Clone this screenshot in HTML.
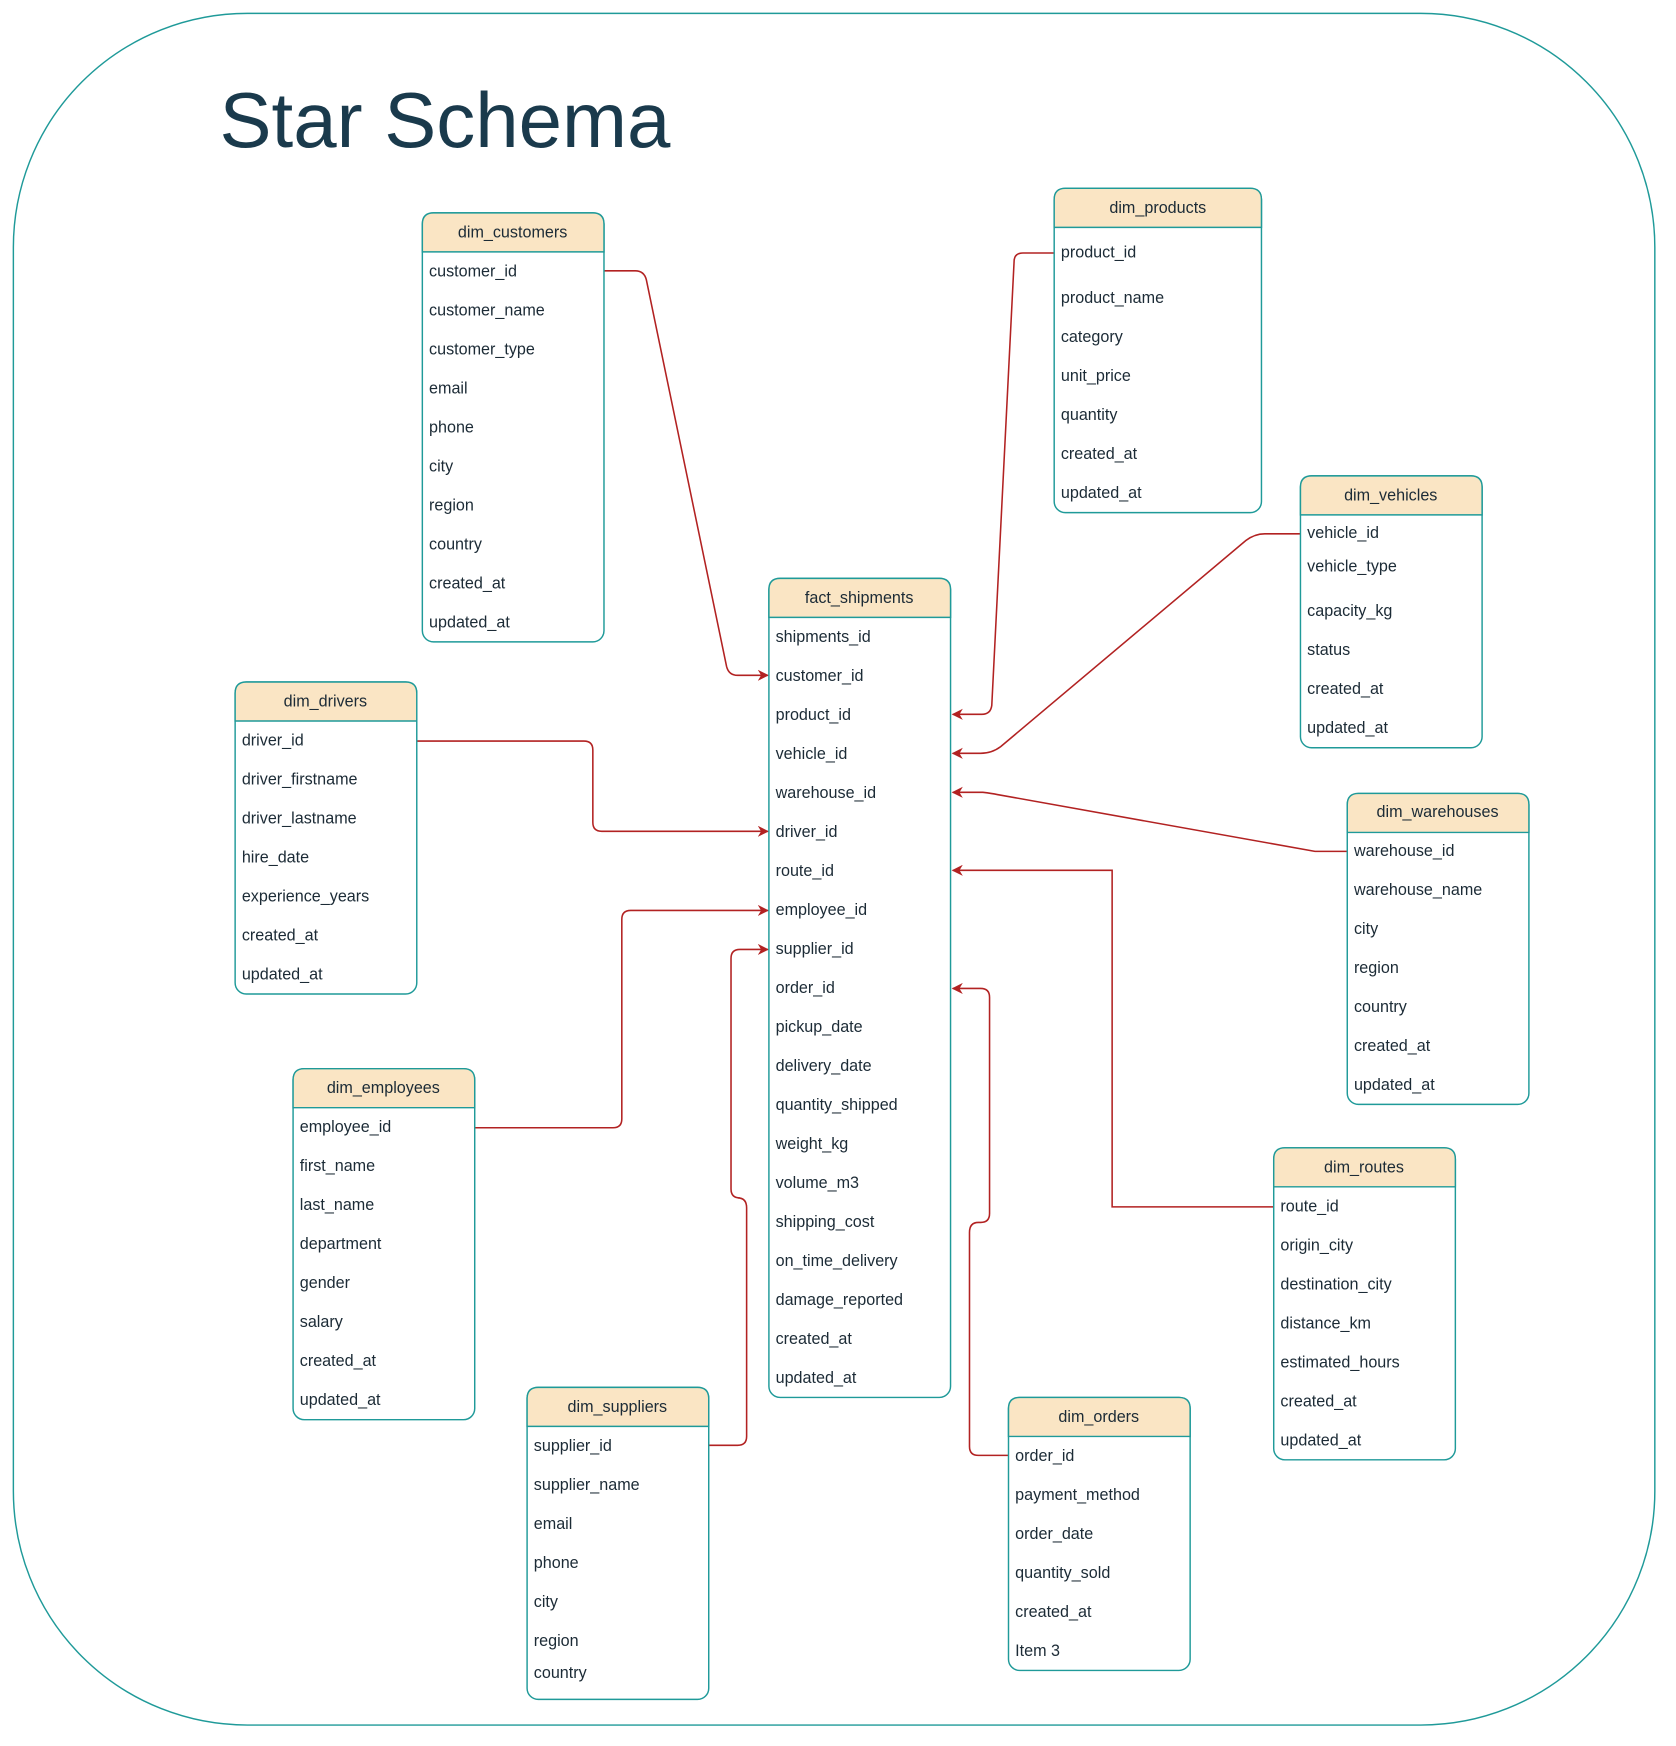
<!DOCTYPE html>
<html><head><meta charset="utf-8"><style>
html,body{margin:0;padding:0;background:#fff;}
svg{display:block;}
text{font-family:"Liberation Sans",Arial,sans-serif;}
.t{font-size:14.5px;fill:#1c2b36;}
.h{font-size:14.5px;fill:#1c2b36;text-anchor:middle;}
.box{fill:#fff;stroke:#1f9a99;stroke-width:1.3;}
.hd{fill:#fae5c4;stroke:#1f9a99;stroke-width:1.3;}
.c{fill:none;stroke:#b22222;stroke-width:1.4;}
</style></head><body>
<svg width="1676" height="1746" viewBox="0 0 1504 1566.8" xmlns="http://www.w3.org/2000/svg">
<defs>
<marker id="a" markerWidth="10" markerHeight="10" refX="9" refY="5" orient="auto" markerUnits="userSpaceOnUse">
<path d="M0,0 L10,5 L0,10 L3,5 Z" fill="#b22222"/></marker>
</defs>
<rect x="12" y="12" width="1473" height="1536" rx="210" ry="210" fill="#fff" stroke="#1f9a99" stroke-width="1.3"/>
<text x="197" y="132" style="font-size:70px;fill:#1a3a4c;" >Star Schema</text>

<path class="c" marker-end="url(#a)" d="M542,243 H570 Q578,243 580,251 L652,598 Q654,606 662,606 H689"/>
<path class="c" marker-end="url(#a)" d="M946,227 H918 Q910,227 910,235 L890,633 Q889,641 881,641 H855"/>
<path class="c" marker-end="url(#a)" d="M1167,479 H1135 Q1126,479 1118,485 L898,670 Q890,676 880,676 H855"/>
<path class="c" marker-end="url(#a)" d="M1209,764 H1180 L895,713 Q890,712 882,711 H855"/>
<path class="c" marker-end="url(#a)" d="M1143,1083 H998 V781 H855"/>
<path class="c" marker-end="url(#a)" d="M905,1306 H878 Q870,1306 870,1298 V1106 Q870,1097 878,1097 H880 Q888,1097 888,1089 V895 Q888,887 880,887 H855"/>
<path class="c" marker-end="url(#a)" d="M636,1297 H662 Q670,1297 670,1289 V1084 Q670,1075 662,1075 H664 Q656,1075 656,1067 V860 Q656,852 664,852 H689"/>
<path class="c" marker-end="url(#a)" d="M426,1012 H550 Q558,1012 558,1004 V825 Q558,817 566,817 H689"/>
<path class="c" marker-end="url(#a)" d="M374,665 H524 Q532,665 532,673 V738 Q532,746 540,746 H689"/>

<g>
<rect class="box" x="379" y="191" width="163" height="385" rx="10"/>
<path class="hd" d="M379,226 V201 Q379,191 389,191 H532 Q542,191 542,201 V226 Z"/>
<text class="h" x="460" y="213">dim_customers</text>
<text class="t" x="385" y="248">customer_id</text>
<text class="t" x="385" y="283">customer_name</text>
<text class="t" x="385" y="318">customer_type</text>
<text class="t" x="385" y="353">email</text>
<text class="t" x="385" y="388">phone</text>
<text class="t" x="385" y="423">city</text>
<text class="t" x="385" y="458">region</text>
<text class="t" x="385" y="493">country</text>
<text class="t" x="385" y="528">created_at</text>
<text class="t" x="385" y="563">updated_at</text>
</g>

<g>
<rect class="box" x="690" y="519" width="163" height="735" rx="10"/>
<path class="hd" d="M690,554 V529 Q690,519 700,519 H843 Q853,519 853,529 V554 Z"/>
<text class="h" x="771" y="541">fact_shipments</text>
<text class="t" x="696" y="576">shipments_id</text>
<text class="t" x="696" y="611">customer_id</text>
<text class="t" x="696" y="646">product_id</text>
<text class="t" x="696" y="681">vehicle_id</text>
<text class="t" x="696" y="716">warehouse_id</text>
<text class="t" x="696" y="751">driver_id</text>
<text class="t" x="696" y="786">route_id</text>
<text class="t" x="696" y="821">employee_id</text>
<text class="t" x="696" y="856">supplier_id</text>
<text class="t" x="696" y="891">order_id</text>
<text class="t" x="696" y="926">pickup_date</text>
<text class="t" x="696" y="961">delivery_date</text>
<text class="t" x="696" y="996">quantity_shipped</text>
<text class="t" x="696" y="1031">weight_kg</text>
<text class="t" x="696" y="1066">volume_m3</text>
<text class="t" x="696" y="1101">shipping_cost</text>
<text class="t" x="696" y="1136">on_time_delivery</text>
<text class="t" x="696" y="1171">damage_reported</text>
<text class="t" x="696" y="1206">created_at</text>
<text class="t" x="696" y="1241">updated_at</text>
</g>

<g>
<rect class="box" x="946" y="169" width="186" height="291" rx="10"/>
<path class="hd" d="M946,204 V179 Q946,169 956,169 H1122 Q1132,169 1132,179 V204 Z"/>
<text class="h" x="1039" y="191">dim_products</text>
<text class="t" x="952" y="231">product_id</text>
<text class="t" x="952" y="272">product_name</text>
<text class="t" x="952" y="307">category</text>
<text class="t" x="952" y="342">unit_price</text>
<text class="t" x="952" y="377">quantity</text>
<text class="t" x="952" y="412">created_at</text>
<text class="t" x="952" y="447">updated_at</text>
</g>

<g>
<rect class="box" x="1167" y="427" width="163" height="244" rx="10"/>
<path class="hd" d="M1167,462 V437 Q1167,427 1177,427 H1320 Q1330,427 1330,437 V462 Z"/>
<text class="h" x="1248" y="449">dim_vehicles</text>
<text class="t" x="1173" y="483">vehicle_id</text>
<text class="t" x="1173" y="513">vehicle_type</text>
<text class="t" x="1173" y="553">capacity_kg</text>
<text class="t" x="1173" y="588">status</text>
<text class="t" x="1173" y="623">created_at</text>
<text class="t" x="1173" y="658">updated_at</text>
</g>

<g>
<rect class="box" x="211" y="612" width="163" height="280" rx="10"/>
<path class="hd" d="M211,647 V622 Q211,612 221,612 H364 Q374,612 374,622 V647 Z"/>
<text class="h" x="292" y="634">dim_drivers</text>
<text class="t" x="217" y="669">driver_id</text>
<text class="t" x="217" y="704">driver_firstname</text>
<text class="t" x="217" y="739">driver_lastname</text>
<text class="t" x="217" y="774">hire_date</text>
<text class="t" x="217" y="809">experience_years</text>
<text class="t" x="217" y="844">created_at</text>
<text class="t" x="217" y="879">updated_at</text>
</g>

<g>
<rect class="box" x="1209" y="712" width="163" height="279" rx="10"/>
<path class="hd" d="M1209,747 V722 Q1209,712 1219,712 H1362 Q1372,712 1372,722 V747 Z"/>
<text class="h" x="1290" y="733">dim_warehouses</text>
<text class="t" x="1215" y="768">warehouse_id</text>
<text class="t" x="1215" y="803">warehouse_name</text>
<text class="t" x="1215" y="838">city</text>
<text class="t" x="1215" y="873">region</text>
<text class="t" x="1215" y="908">country</text>
<text class="t" x="1215" y="943">created_at</text>
<text class="t" x="1215" y="978">updated_at</text>
</g>

<g>
<rect class="box" x="263" y="959" width="163" height="315" rx="10"/>
<path class="hd" d="M263,994 V969 Q263,959 273,959 H416 Q426,959 426,969 V994 Z"/>
<text class="h" x="344" y="981">dim_employees</text>
<text class="t" x="269" y="1016">employee_id</text>
<text class="t" x="269" y="1051">first_name</text>
<text class="t" x="269" y="1086">last_name</text>
<text class="t" x="269" y="1121">department</text>
<text class="t" x="269" y="1156">gender</text>
<text class="t" x="269" y="1191">salary</text>
<text class="t" x="269" y="1226">created_at</text>
<text class="t" x="269" y="1261">updated_at</text>
</g>

<g>
<rect class="box" x="1143" y="1030" width="163" height="280" rx="10"/>
<path class="hd" d="M1143,1065 V1040 Q1143,1030 1153,1030 H1296 Q1306,1030 1306,1040 V1065 Z"/>
<text class="h" x="1224" y="1052">dim_routes</text>
<text class="t" x="1149" y="1087">route_id</text>
<text class="t" x="1149" y="1122">origin_city</text>
<text class="t" x="1149" y="1157">destination_city</text>
<text class="t" x="1149" y="1192">distance_km</text>
<text class="t" x="1149" y="1227">estimated_hours</text>
<text class="t" x="1149" y="1262">created_at</text>
<text class="t" x="1149" y="1297">updated_at</text>
</g>

<g>
<rect class="box" x="473" y="1245" width="163" height="280" rx="10"/>
<path class="hd" d="M473,1280 V1255 Q473,1245 483,1245 H626 Q636,1245 636,1255 V1280 Z"/>
<text class="h" x="554" y="1267">dim_suppliers</text>
<text class="t" x="479" y="1302">supplier_id</text>
<text class="t" x="479" y="1337">supplier_name</text>
<text class="t" x="479" y="1372">email</text>
<text class="t" x="479" y="1407">phone</text>
<text class="t" x="479" y="1442">city</text>
<text class="t" x="479" y="1477">region</text>
<text class="t" x="479" y="1506">country</text>
</g>

<g>
<rect class="box" x="905" y="1254" width="163" height="245" rx="10"/>
<path class="hd" d="M905,1289 V1264 Q905,1254 915,1254 H1058 Q1068,1254 1068,1264 V1289 Z"/>
<text class="h" x="986" y="1276">dim_orders</text>
<text class="t" x="911" y="1311">order_id</text>
<text class="t" x="911" y="1346">payment_method</text>
<text class="t" x="911" y="1381">order_date</text>
<text class="t" x="911" y="1416">quantity_sold</text>
<text class="t" x="911" y="1451">created_at</text>
<text class="t" x="911" y="1486">Item 3</text>
</g>
</svg>
</body></html>
